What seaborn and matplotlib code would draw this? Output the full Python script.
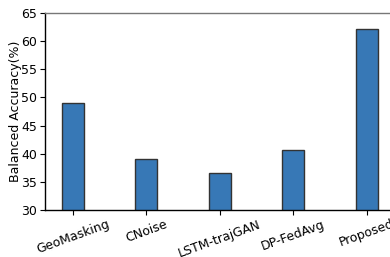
import matplotlib
matplotlib.use("Agg")
import matplotlib.pyplot as plt
import seaborn as sns
import pandas as pd

methods = ["GeoMasking", "CNoise", "LSTM-trajGAN", "DP-FedAvg", "Proposed"]
accuracy = [49.1, 39.1, 36.6, 40.7, 62.1]

df = pd.DataFrame({"method": methods, "acc": accuracy})

sns.set_style("ticks", {"axes.edgecolor": "black", "text.color": "black",
                        "xtick.color": "black", "ytick.color": "black",
                        "axes.labelcolor": "black"})
plt.rcParams['font.family'] = ['DejaVu Sans']

fig = plt.figure(figsize=(3.9, 2.57), dpi=100)
ax = fig.add_axes([0.1154, 0.183, 0.90, 0.766])
sns.barplot(data=df, x="method", y="acc", color="#3778b6", saturation=1,
            width=0.3, edgecolor="#333333", linewidth=1.0, ax=ax)
ax.set_ylim(30, 65)
ax.set_xlim(-0.38, 4.4)
ax.set_yticks([30, 35, 40, 45, 50, 55, 60, 65])
ax.set_xlabel("")
ax.set_ylabel("Balanced Accuracy(%)", fontsize=9)
ax.yaxis.set_label_coords(-0.066, 0.5)
ax.tick_params(axis="y", labelsize=9, pad=2, width=0.8)
ax.tick_params(axis="x", labelsize=9, pad=2, width=0.8)
plt.setp(ax.get_xticklabels(), rotation=20, ha="center")
for s in ax.spines.values():
    s.set_linewidth(1.0)
ax.spines["top"].set_color("#777777")
fig.savefig("out.png", dpi=100)
